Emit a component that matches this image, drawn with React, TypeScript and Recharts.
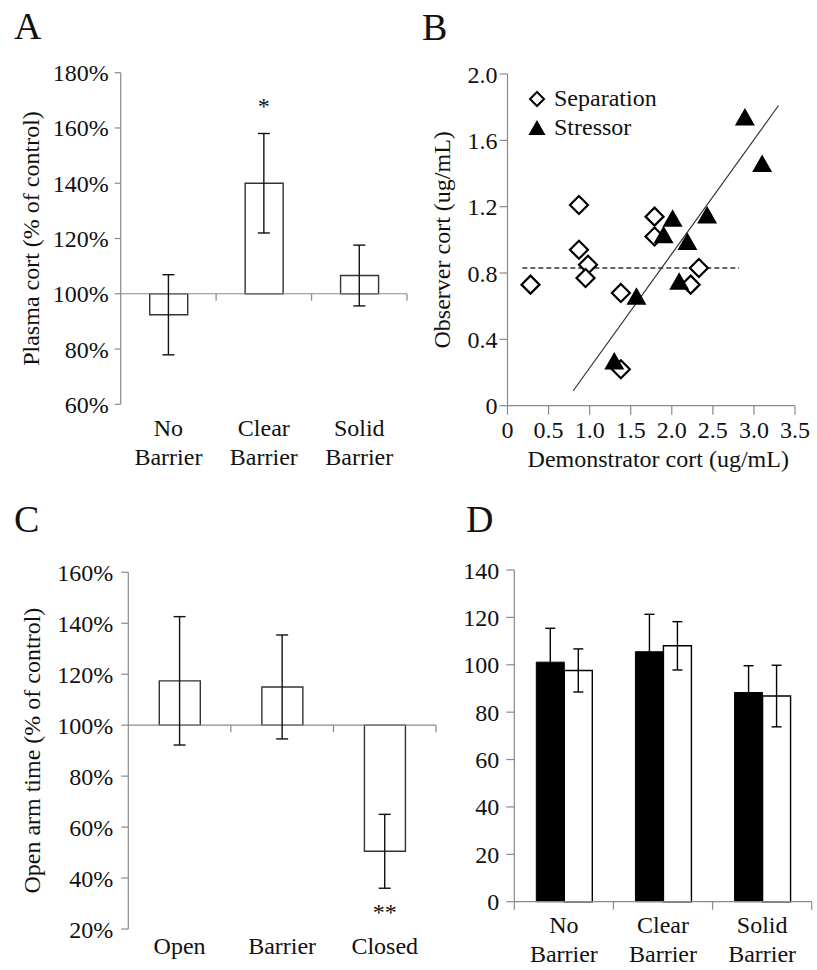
import React from 'react';
import {
  ComposedChart,
  BarChart,
  ScatterChart,
  Bar,
  Line,
  Scatter,
  XAxis,
  YAxis,
  ErrorBar,
  ReferenceLine,
  Legend,
} from 'recharts';

// ---------- Panel A : plasma cort ----------
const barrierCategories = ['No Barrier', 'Clear Barrier', 'Solid Barrier'];
const plasmaCortMeans = [92.4, 140.0, 106.6];
const plasmaCortErrors = [14.5, 18.0, 11.0];
const plasmaCortMarks = ['', '*', ''];
const plasmaCortTicks = [60, 80, 100, 120, 140, 160, 180];

// ---------- Panel B : observer vs demonstrator ----------
const separationDemonstrator = [0.28, 0.87, 0.87, 0.98, 0.95, 1.38, 1.38, 1.79, 1.79, 2.33, 2.23];
const separationObserver = [0.73, 1.21, 0.94, 0.85, 0.77, 0.68, 0.22, 1.14, 1.02, 0.83, 0.73];
const stressorDemonstrator = [2.89, 3.1, 2.01, 2.43, 1.9, 2.19, 2.09, 1.57, 1.3];
const stressorObserver = [1.74, 1.46, 1.13, 1.15, 1.03, 0.99, 0.75, 0.66, 0.27];
const separationFitX = [0.18, 2.82];
const separationFitY = [0.83, 0.83];
const stressorFitX = [0.8, 3.3];
const stressorFitY = [0.09, 1.81];
const demonstratorTicks = [0, 0.5, 1, 1.5, 2, 2.5, 3, 3.5];
const observerTicks = [0, 0.4, 0.8, 1.2, 1.6, 2.0];

// ---------- Panel C : open arm time ----------
const mazeCategories = ['Open', 'Barrier', 'Closed'];
const openArmMeans = [117.4, 115.0, 50.5];
const openArmErrors = [25.2, 20.4, 14.5];
const openArmMarks = ['', '', '**'];
const openArmTicks = [20, 40, 60, 80, 100, 120, 140, 160];

// ---------- Panel D ----------
const blackMeans = [101.1, 105.5, 88.3];
const blackErrors = [14.3, 15.8, 11.3];
const whiteMeans = [97.6, 108.0, 86.8];
const whiteErrors = [9.1, 10.2, 13.0];
const panelDTicks = [0, 20, 40, 60, 80, 100, 120, 140];

const CONTROL = 100;

const FONT = '"Liberation Serif", "Times New Roman", serif';
const TEXT = '#111';
const AXIS = '#8a8a8a';
const FS = 24;
const tickStyle = { fontFamily: FONT, fontSize: FS, fill: TEXT };

const panelAData = barrierCategories.map((c, i) => ({
  category: c,
  range: [CONTROL, plasmaCortMeans[i]],
  mean: plasmaCortMeans[i],
  err: plasmaCortErrors[i],
  errTop: plasmaCortMeans[i] + plasmaCortErrors[i],
  mark: plasmaCortMarks[i],
}));

const panelCData = mazeCategories.map((c, i) => ({
  category: c,
  range: [CONTROL, openArmMeans[i]],
  mean: openArmMeans[i],
  err: openArmErrors[i],
  errBottom: openArmMeans[i] - openArmErrors[i],
  mark: openArmMarks[i],
}));

const separationData = separationDemonstrator.map((x, i) => ({ x, y: separationObserver[i] }));
const stressorData = stressorDemonstrator.map((x, i) => ({ x, y: stressorObserver[i] }));

const panelDData = barrierCategories.map((c, i) => ({
  category: c,
  black: blackMeans[i],
  blackErr: blackErrors[i],
  white: whiteMeans[i],
  whiteErr: whiteErrors[i],
}));

const fmtDec = (v: number) => (v === 0 ? '0' : v.toFixed(1));
const fmtPct = (v: number) => `${v}%`;

function TwoLineTick(props: any) {
  const { x, y, payload } = props;
  const words = String(payload.value).split(' ');
  return (
    <text x={x} y={y} textAnchor="middle" fontFamily={FONT} fontSize={FS} fill={TEXT}>
      {words.map((w, i) => (
        <tspan key={i} x={x} dy={i === 0 ? '0.71em' : '1.2em'}>
          {w}
        </tspan>
      ))}
    </text>
  );
}

function categoryAxisShape(count: number, from: number, tickLen: number) {
  return (p: any) => {
    const { x1, y1, x2, y2 } = p;
    const step = (x2 - x1) / count;
    const ticks = [];
    for (let i = from; i <= count; i++) {
      ticks.push(
        <line key={i} x1={x1 + i * step} x2={x1 + i * step} y1={y1} y2={y1 + tickLen} stroke={AXIS} strokeWidth={1.2} />
      );
    }
    return (
      <g>
        <line x1={x1} y1={y1} x2={x2} y2={y2} stroke={AXIS} strokeWidth={1.2} />
        {ticks}
      </g>
    );
  };
}

function Diamond(props: any) {
  const { cx, cy } = props;
  const r = 9;
  return (
    <path
      d={`M${cx} ${cy - r} L${cx + r} ${cy} L${cx} ${cy + r} L${cx - r} ${cy} Z`}
      fill="#fff"
      stroke="#000"
      strokeWidth={2.2}
    />
  );
}

function Triangle(props: any) {
  const { cx, cy } = props;
  return <path d={`M${cx} ${cy - 9} L${cx + 10} ${cy + 8.5} L${cx - 10} ${cy + 8.5} Z`} fill="#000" />;
}

function ScatterLegend() {
  const row: React.CSSProperties = {
    display: 'flex',
    alignItems: 'center',
    height: 29,
    fontFamily: FONT,
    fontSize: FS,
    color: TEXT,
    whiteSpace: 'nowrap',
  };
  return (
    <div>
      <div style={row}>
        <svg width={22} height={22}>
          <path d="M11 4 L18 11 L11 18 L4 11 Z" fill="#fff" stroke="#000" strokeWidth={2} />
        </svg>
        <span style={{ marginLeft: 6 }}>Separation</span>
      </div>
      <div style={row}>
        <svg width={22} height={22}>
          <path d="M11 3 L19.5 18 L2.5 18 Z" fill="#000" />
        </svg>
        <span style={{ marginLeft: 6 }}>Stressor</span>
      </div>
    </div>
  );
}

const yLabel = (value: string, offset: number) => ({
  value,
  angle: -90,
  position: 'insideLeft' as const,
  offset,
  textAnchor: 'middle',
  style: { textAnchor: 'middle', fontFamily: FONT, fontSize: FS, fill: TEXT },
});

function PanelA() {
  return (
    <ComposedChart width={420} height={480} data={panelAData} margin={{ top: 72.7, right: 13, bottom: 15.7, left: 0 }}>
      <XAxis
        dataKey="category"
        axisLine={false}
        tickLine={false}
        tickSize={0}
        tickMargin={15}
        height={60}
        interval={0}
        tick={<TwoLineTick />}
      />
      <YAxis
        domain={[60, 180]}
        ticks={plasmaCortTicks}
        interval={0}
        tickFormatter={fmtPct}
        width={120.7}
        axisLine={{ stroke: AXIS, strokeWidth: 1.2 }}
        tickLine={{ stroke: AXIS, strokeWidth: 1.2 }}
        tickSize={6}
        tickMargin={6}
        tick={tickStyle}
        label={yLabel('Plasma cort (% of control)', 30)}
      />
      <ReferenceLine y={CONTROL} shape={categoryAxisShape(barrierCategories.length, 1, 7)} />
      <Bar dataKey="range" barSize={38} fill="#fff" stroke="#333" strokeWidth={1.4} isAnimationActive={false} />
      <Line dataKey="mean" stroke="none" dot={false} activeDot={false} isAnimationActive={false}>
        <ErrorBar dataKey="err" width={6} stroke="#111" strokeWidth={1.4} direction="y" isAnimationActive={false} />
      </Line>
      <Line
        dataKey="errTop"
        stroke="none"
        activeDot={false}
        isAnimationActive={false}
        dot={(p: any) => (
          <text key={p.index} x={p.cx} y={p.cy - 19} textAnchor="middle" fontFamily={FONT} fontSize={FS} fill={TEXT}>
            {p.payload.mark}
          </text>
        )}
      />
    </ComposedChart>
  );
}

function PanelB() {
  return (
    <ScatterChart width={417} height={480} margin={{ top: 74, right: 22, bottom: 10.3, left: 0 }}>
      <XAxis
        type="number"
        dataKey="x"
        domain={[0, 3.5]}
        ticks={demonstratorTicks}
        interval={0}
        tickFormatter={fmtDec}
        height={64}
        tickSize={9}
        tickMargin={6.5}
        axisLine={{ stroke: AXIS, strokeWidth: 1.2 }}
        tickLine={{ stroke: AXIS, strokeWidth: 1.2 }}
        tick={tickStyle}
        label={{
          value: 'Demonstrator cort (ug/mL)',
          position: 'insideBottom',
          offset: 2.7,
          dx: 7,
          style: { fontFamily: FONT, fontSize: FS, fill: TEXT },
        }}
      />
      <YAxis
        type="number"
        dataKey="y"
        domain={[0, 2]}
        ticks={observerTicks}
        interval={0}
        tickFormatter={fmtDec}
        width={107.5}
        tickSize={8}
        tickMargin={2}
        axisLine={{ stroke: AXIS, strokeWidth: 1.2 }}
        tickLine={{ stroke: AXIS, strokeWidth: 1.2 }}
        tick={tickStyle}
        label={yLabel('Observer cort (ug/mL)', 41.7)}
      />
      <ReferenceLine
        segment={[
          { x: separationFitX[0], y: separationFitY[0] },
          { x: separationFitX[1], y: separationFitY[1] },
        ]}
        stroke="#333"
        strokeWidth={1.5}
        strokeDasharray="5 3"
      />
      <ReferenceLine
        segment={[
          { x: stressorFitX[0], y: stressorFitY[0] },
          { x: stressorFitX[1], y: stressorFitY[1] },
        ]}
        stroke="#333"
        strokeWidth={1.2}
      />
      <Scatter name="Separation" data={separationData} shape={(p: any) => <Diamond {...p} />} isAnimationActive={false} />
      <Scatter name="Stressor" data={stressorData} shape={(p: any) => <Triangle {...p} />} isAnimationActive={false} />
      <Legend
        layout="vertical"
        align="center"
        verticalAlign="middle"
        wrapperStyle={{ left: 126, top: 84, width: 'auto', height: 'auto' }}
        content={() => <ScatterLegend />}
      />
    </ScatterChart>
  );
}

function PanelC() {
  return (
    <ComposedChart width={440} height={490} data={panelCData} margin={{ top: 92.3, right: 4, bottom: 11, left: 0 }}>
      <XAxis
        dataKey="category"
        axisLine={false}
        tickLine={false}
        tickSize={0}
        tickMargin={8}
        height={30}
        interval={0}
        tick={tickStyle}
      />
      <YAxis
        domain={[20, 160]}
        ticks={openArmTicks}
        interval={0}
        tickFormatter={fmtPct}
        width={128.3}
        axisLine={{ stroke: AXIS, strokeWidth: 1.2 }}
        tickLine={{ stroke: AXIS, strokeWidth: 1.2 }}
        tickSize={7}
        tickMargin={8}
        tick={tickStyle}
        label={yLabel('Open arm time (% of control)', 31.7)}
      />
      <ReferenceLine y={CONTROL} shape={categoryAxisShape(mazeCategories.length, 1, 7)} />
      <Bar dataKey="range" barSize={41} fill="#fff" stroke="#333" strokeWidth={1.4} isAnimationActive={false} />
      <Line dataKey="mean" stroke="none" dot={false} activeDot={false} isAnimationActive={false}>
        <ErrorBar dataKey="err" width={6} stroke="#111" strokeWidth={1.4} direction="y" isAnimationActive={false} />
      </Line>
      <Line
        dataKey="errBottom"
        stroke="none"
        activeDot={false}
        isAnimationActive={false}
        dot={(p: any) => (
          <text key={p.index} x={p.cx} y={p.cy + 32} textAnchor="middle" fontFamily={FONT} fontSize={FS} fill={TEXT}>
            {p.payload.mark}
          </text>
        )}
      />
    </ComposedChart>
  );
}

function PanelD() {
  return (
    <BarChart width={417} height={490} data={panelDData} margin={{ top: 90, right: 5.3, bottom: 8.3, left: 0 }} barGap={0}>
      <XAxis
        dataKey="category"
        axisLine={false}
        tickLine={false}
        tickSize={0}
        tickMargin={14}
        height={60}
        interval={0}
        tick={<TwoLineTick />}
      />
      <YAxis
        domain={[0, 140]}
        ticks={panelDTicks}
        interval={0}
        width={114.3}
        axisLine={{ stroke: AXIS, strokeWidth: 1.2 }}
        tickLine={{ stroke: AXIS, strokeWidth: 1.2 }}
        tickSize={8}
        tickMargin={7}
        tick={tickStyle}
      />
      <ReferenceLine y={0} shape={categoryAxisShape(barrierCategories.length, 0, 8)} />
      <Bar dataKey="black" barSize={28} fill="#000" stroke="#000" strokeWidth={1} isAnimationActive={false}>
        <ErrorBar dataKey="blackErr" width={5} stroke="#000" strokeWidth={1.4} direction="y" isAnimationActive={false} />
      </Bar>
      <Bar dataKey="white" barSize={28} fill="#fff" stroke="#000" strokeWidth={1.4} isAnimationActive={false}>
        <ErrorBar dataKey="whiteErr" width={5} stroke="#000" strokeWidth={1.4} direction="y" isAnimationActive={false} />
      </Bar>
    </BarChart>
  );
}

const panelLetters = [
  { t: 'A', x: 14, y: 39 },
  { t: 'B', x: 422, y: 40 },
  { t: 'C', x: 14, y: 532 },
  { t: 'D', x: 466, y: 532 },
];

export default function App() {
  return (
    <div style={{ position: 'absolute', left: 0, top: 0, width: 817, height: 970, background: '#fff' }}>
      <div style={{ position: 'absolute', left: 0, top: 0 }}>
        <PanelA />
      </div>
      <div style={{ position: 'absolute', left: 400, top: 0 }}>
        <PanelB />
      </div>
      <div style={{ position: 'absolute', left: 0, top: 480 }}>
        <PanelC />
      </div>
      <div style={{ position: 'absolute', left: 400, top: 480 }}>
        <PanelD />
      </div>
      <svg width={817} height={970} style={{ position: 'absolute', left: 0, top: 0, pointerEvents: 'none' }}>
        {panelLetters.map((l) => (
          <text key={l.t} x={l.x} y={l.y} fontFamily={FONT} fontSize={38} fill={TEXT}>
            {l.t}
          </text>
        ))}
      </svg>
    </div>
  );
}
